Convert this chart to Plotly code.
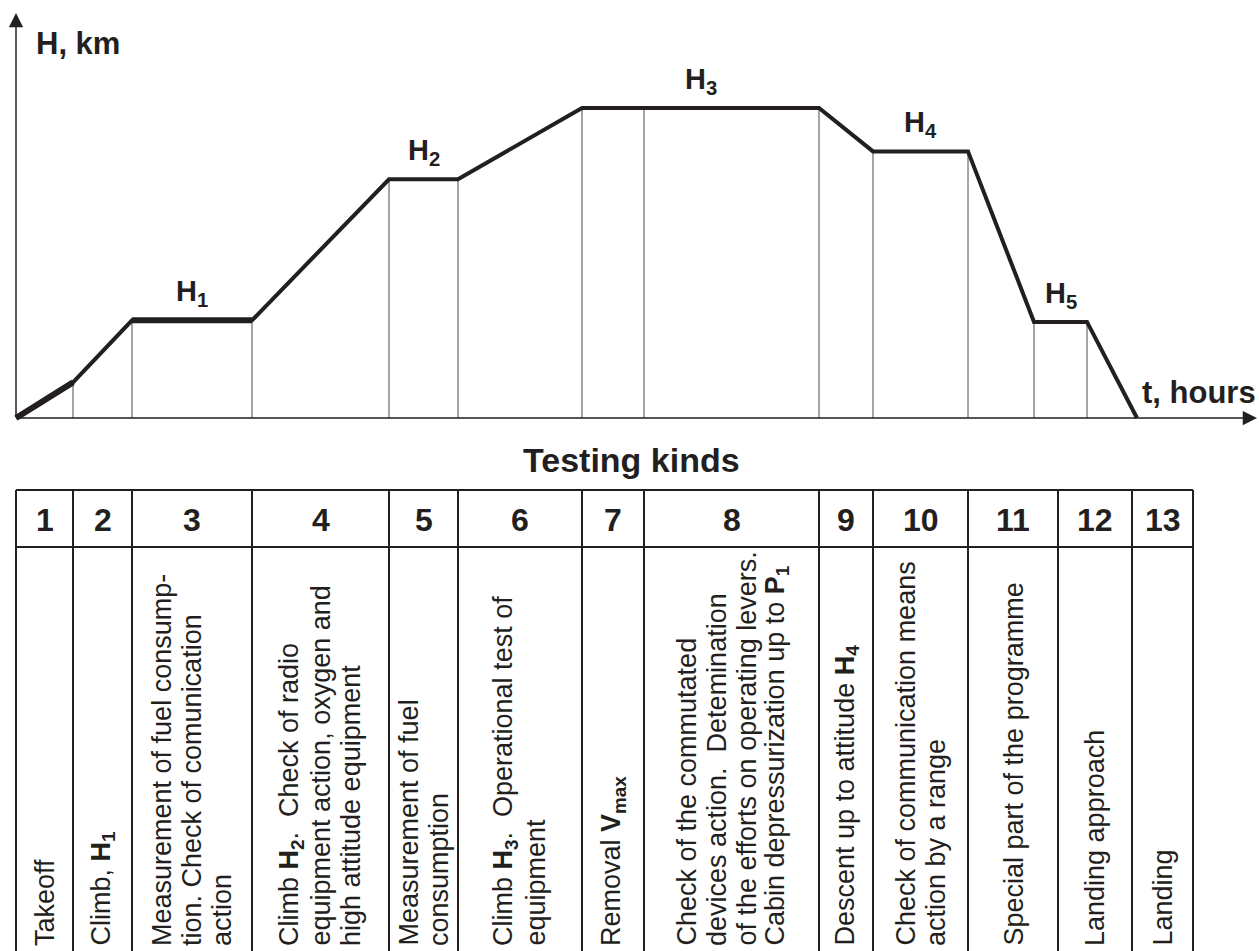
import plotly.graph_objects as go

# ---- flight profile: time (h) and altitude (km) at each phase boundary ----
t_hours = [0, 0.57, 1.16, 2.36, 3.73, 4.42, 5.66, 6.28, 8.03, 8.57, 9.52, 10.18, 10.71, 11.21]
h_km = [0, 1.15, 3.15, 3.15, 7.7, 7.7, 10.0, 10.0, 10.0, 8.6, 8.6, 3.1, 3.1, 0]

# level flights: label and (start, end) index into the profile
level_names = ["H<sub>1</sub>", "H<sub>2</sub>", "H<sub>3</sub>", "H<sub>4</sub>", "H<sub>5</sub>"]
level_spans = [(2, 3), (4, 5), (6, 8), (9, 10), (11, 12)]

# ---- table of testing kinds ----
phase_numbers = ["1", "2", "3", "4", "5", "6", "7", "8", "9", "10", "11", "12", "13"]
column_edges = [0, 0.57, 1.16, 2.36, 3.73, 4.42, 5.66, 6.28, 8.03, 8.57, 9.52, 10.42, 11.16, 11.77]
phase_texts = [
    ["Takeoff"],
    ["Climb, <b>H<sub>1</sub></b>"],
    ["Measurement of fuel consump-", "tion. Check of comunication", "action"],
    ["Climb <b>H<sub>2</sub></b>.  Check of radio", "equipment action, oxygen and",
     "high attitude equipment"],
    ["Measurement of fuel", "consumption"],
    ["Climb <b>H<sub>3</sub></b>.  Operational test of", "equipment"],
    ["Removal <b>V<sub>max</sub></b>"],
    ["Check of the commutated", "devices action.  Detemination",
     "of the efforts on operating levers.", "Cabin depressurization up to <b>P<sub>1</sub></b>"],
    ["Descent up to attitude <b>H<sub>4</sub></b>"],
    ["Check of communication means", "action by a range"],
    ["Special part of the programme"],
    ["Landing approach"],
    ["Landing"],
]

W, H = 1259, 951
FONT = "Liberation Sans, Arial, Helvetica, sans-serif"
INK = "#231f20"
GRID = "#4a4a4a"
LINE_STEP = 30  # px between stacked text lines in the table

X_RANGE = [-0.16, 12.43]
Y_RANGE = [(418 - 951) / 31, 418 / 31]


def py(px):
    """Screen row (px from top) to paper y."""
    return 1 - px / H


fig = go.Figure()

# thin drop lines from each phase boundary to the time axis
drop_x, drop_y = [], []
for t, h in zip(t_hours[1:-1], h_km[1:-1]):
    drop_x += [t, t, None]
    drop_y += [0, h, None]
fig.add_trace(go.Scatter(x=drop_x, y=drop_y, mode="lines",
                         line=dict(color=GRID, width=1), hoverinfo="skip"))

# altitude profile
fig.add_trace(go.Scatter(x=t_hours, y=h_km, mode="lines",
                         line=dict(color=INK, width=4), hoverinfo="skip"))
# take-off run and the first level flight are drawn heavier
for i0, i1 in [(0, 1), (2, 3)]:
    fig.add_trace(go.Scatter(x=t_hours[i0:i1 + 1], y=h_km[i0:i1 + 1], mode="lines",
                             line=dict(color=INK, width=6), hoverinfo="skip"))

annotations = []

# level labels
for name, (i0, i1) in zip(level_names, level_spans):
    annotations.append(dict(
        x=(t_hours[i0] + t_hours[i1]) / 2, y=h_km[i0], xref="x", yref="y",
        text=f"<b>{name}</b>", showarrow=False, xanchor="center", yanchor="bottom",
        yshift=7, font=dict(family=FONT, size=29, color=INK)))

# axes with arrowheads
annotations.append(dict(x=12.41, y=0, ax=0, ay=0, xref="x", yref="y", axref="x", ayref="y",
                        text="", showarrow=True, arrowhead=2, arrowsize=1.9,
                        arrowwidth=1.5, arrowcolor=INK))
annotations.append(dict(x=0, y=(418 - 13) / 31, ax=0, ay=0, xref="x", yref="y", axref="x",
                        ayref="y", text="", showarrow=True, arrowhead=2, arrowsize=1.9,
                        arrowwidth=1.5, arrowcolor=INK))

annotations.append(dict(x=34 / W, y=py(43), xref="paper", yref="paper", text="<b>H, km</b>",
                        showarrow=False, xanchor="left", yanchor="middle",
                        font=dict(family=FONT, size=31, color=INK)))
annotations.append(dict(x=1258 / W, y=py(392), xref="paper", yref="paper",
                        text="<b>t, hours</b>", showarrow=False, xanchor="right",
                        yanchor="middle", font=dict(family=FONT, size=31, color=INK)))
annotations.append(dict(x=631 / W, y=py(460), xref="paper", yref="paper",
                        text="<b>Testing kinds</b>", showarrow=False, xanchor="center",
                        yanchor="middle", font=dict(family=FONT, size=34, color=INK)))

# table
TABLE_TOP, HEADER_BOTTOM, TABLE_BOTTOM = 490, 547, 951
shapes = []
for e in column_edges:
    shapes.append(dict(type="line", xref="x", yref="paper", x0=e, x1=e,
                       y0=py(TABLE_TOP), y1=py(TABLE_BOTTOM),
                       line=dict(color=INK, width=2)))
for row in (TABLE_TOP, HEADER_BOTTOM):
    shapes.append(dict(type="line", xref="x", yref="paper", x0=column_edges[0],
                       x1=column_edges[-1], y0=py(row), y1=py(row),
                       line=dict(color=INK, width=2)))

for k, (num, lines) in enumerate(zip(phase_numbers, phase_texts)):
    xc = (column_edges[k] + column_edges[k + 1]) / 2
    annotations.append(dict(x=xc, y=py((TABLE_TOP + HEADER_BOTTOM) / 2 + 1), xref="x",
                            yref="paper", text=f"<b>{num}</b>", showarrow=False,
                            xanchor="center", yanchor="middle",
                            font=dict(family=FONT, size=32, color=INK)))
    n = len(lines)
    for j, line in enumerate(lines):
        annotations.append(dict(x=xc, y=py(948), xref="x", yref="paper", text=line,
                                showarrow=False, textangle=-90,
                                xanchor="center", yanchor="bottom",
                                xshift=(j - (n - 1) / 2) * LINE_STEP,
                                font=dict(family=FONT, size=27, color=INK)))

fig.update_layout(
    width=W, height=H, margin=dict(l=0, r=0, t=0, b=0),
    paper_bgcolor="white", plot_bgcolor="white", showlegend=False,
    xaxis=dict(range=X_RANGE, visible=False, domain=[0, 1]),
    yaxis=dict(range=Y_RANGE, visible=False, domain=[0, 1]),
    annotations=annotations, shapes=shapes,
)

fig.write_html("out.html")
